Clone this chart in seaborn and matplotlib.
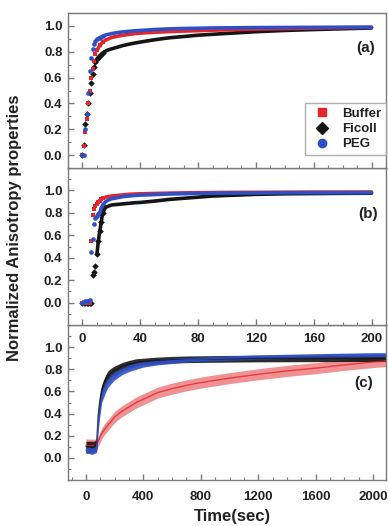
import numpy as np
import pandas as pd
import seaborn as sns
import matplotlib
matplotlib.use("Agg")
import matplotlib.pyplot as plt
from matplotlib.ticker import MultipleLocator
from matplotlib.lines import Line2D

# ---------------- data ----------------
series_names = ["Buffer", "Ficoll", "PEG"]
colors = {"Buffer": "#e3262b", "Ficoll": "#151515", "PEG": "#2f4fc4"}
markers = {"Buffer": "s", "Ficoll": "D", "PEG": "o"}

# Panel (a): time in sec
t_a = [0, 1, 2, 3, 4, 5, 6, 7, 8, 9, 10, 12, 14, 16, 18, 20, 24, 28, 32, 36, 40,
       50, 60, 70, 80, 90, 100, 120, 140, 160, 180, 200]
buffer_a = [0.00, 0.07, 0.18, 0.28, 0.40, 0.50, 0.60, 0.67, 0.73, 0.78, 0.81, 0.85,
            0.875, 0.89, 0.90, 0.91, 0.92, 0.928, 0.934, 0.94, 0.944, 0.951, 0.956,
            0.96, 0.963, 0.967, 0.97, 0.975, 0.979, 0.983, 0.986, 0.989]
ficoll_a = [0.00, 0.08, 0.24, 0.32, 0.40, 0.48, 0.56, 0.63, 0.68, 0.72, 0.745, 0.77,
            0.79, 0.805, 0.815, 0.822, 0.835, 0.848, 0.858, 0.867, 0.875, 0.893,
            0.908, 0.918, 0.928, 0.935, 0.942, 0.955, 0.965, 0.972, 0.978, 0.984]
peg_a = [0.00, 0.00, 0.20, 0.32, 0.48, 0.65, 0.75, 0.82, 0.86, 0.88, 0.895, 0.91,
         0.92, 0.93, 0.935, 0.94, 0.948, 0.954, 0.958, 0.962, 0.965, 0.972, 0.977,
         0.98, 0.982, 0.984, 0.985, 0.987, 0.988, 0.989, 0.99, 0.99]

# Panel (b): time in sec
t_b = [0, 1, 2, 3, 4, 5, 6, 7, 8, 9, 10, 11, 12, 13, 14, 16, 18, 20, 24, 28, 32, 36,
       40, 50, 60, 70, 80, 90, 100, 120, 140, 160, 180, 200]
buffer_b = [0.0, 0.0, 0.0, 0.0, 0.0, 0.0, 0.55, 0.78, 0.83, 0.86, 0.88, 0.90, 0.91,
            0.92, 0.93, 0.94, 0.945, 0.95, 0.955, 0.96, 0.965, 0.968, 0.97, 0.973,
            0.976, 0.978, 0.98, 0.981, 0.982, 0.983, 0.984, 0.985, 0.985, 0.986]
ficoll_b = [0.0, 0.0, 0.0, 0.0, 0.0, 0.0, 0.0, 0.25, 0.27, 0.33, 0.43, 0.55, 0.64,
            0.72, 0.80, 0.85, 0.86, 0.87, 0.875, 0.88, 0.885, 0.89, 0.893, 0.905,
            0.92, 0.93, 0.94, 0.95, 0.955, 0.965, 0.97, 0.972, 0.974, 0.975]
peg_b = [0.0, 0.005, 0.01, 0.01, 0.015, 0.02, 0.45, 0.57, 0.70, 0.75, 0.77, 0.79,
         0.80, 0.84, 0.87, 0.90, 0.915, 0.925, 0.935, 0.945, 0.95, 0.955, 0.958,
         0.963, 0.968, 0.971, 0.974, 0.976, 0.977, 0.978, 0.979, 0.98, 0.98, 0.98]

# Panel (c): time in sec, band centre and half-width of the noisy traces
t_c = [0, 20, 40, 60, 75, 85, 95, 110, 130, 150, 175, 200, 250, 300, 350, 400, 500,
       600, 700, 800, 1000, 1200, 1400, 1600, 1800, 2000, 2100]
buffer_c = [0.11, 0.11, 0.11, 0.11, 0.12, 0.15, 0.18, 0.22, 0.26, 0.29, 0.33, 0.37,
            0.42, 0.46, 0.50, 0.53, 0.59, 0.625, 0.655, 0.68, 0.72, 0.755, 0.785,
            0.81, 0.84, 0.865, 0.875]
buffer_c_spread = [0.06, 0.06, 0.06, 0.06, 0.05, 0.05, 0.05, 0.05, 0.05, 0.05, 0.05,
                   0.05, 0.05, 0.05, 0.05, 0.05, 0.05, 0.05, 0.05, 0.05, 0.05, 0.05,
                   0.05, 0.05, 0.05, 0.05, 0.05]
ficoll_c = [0.10, 0.10, 0.10, 0.10, 0.13, 0.38, 0.50, 0.62, 0.69, 0.74, 0.77, 0.79,
            0.825, 0.845, 0.86, 0.87, 0.88, 0.886, 0.89, 0.892, 0.895, 0.897, 0.898,
            0.899, 0.90, 0.90, 0.90]
ficoll_c_spread = [0.05, 0.05, 0.05, 0.05, 0.05, 0.05, 0.05, 0.04, 0.04, 0.04, 0.04,
                   0.04, 0.035, 0.035, 0.035, 0.03, 0.03, 0.03, 0.03, 0.03, 0.03,
                   0.03, 0.03, 0.03, 0.03, 0.03, 0.03]
peg_c = [0.07, 0.07, 0.06, 0.07, 0.10, 0.30, 0.42, 0.55, 0.62, 0.67, 0.71, 0.74,
         0.78, 0.81, 0.83, 0.845, 0.865, 0.877, 0.886, 0.892, 0.902, 0.91, 0.916,
         0.921, 0.926, 0.93, 0.93]
peg_c_spread = [0.03, 0.03, 0.03, 0.03, 0.05, 0.06, 0.06, 0.05, 0.05, 0.04, 0.04,
                0.035, 0.03, 0.03, 0.03, 0.025, 0.025, 0.025, 0.02, 0.02, 0.02, 0.02,
                0.02, 0.02, 0.02, 0.02, 0.02]

y_ticks = [0.0, 0.2, 0.4, 0.6, 0.8, 1.0]
x_ticks_ab = [0, 40, 80, 120, 160, 200]
x_ticks_c = [0, 400, 800, 1200, 1600, 2000]
panel_labels = ["(a)", "(b)", "(c)"]


def long_df(t, vals):
    frames = []
    for name, v in zip(series_names, vals):
        frames.append(pd.DataFrame({"t": t, "v": v, "series": name}))
    return pd.concat(frames, ignore_index=True)


df_a = long_df(t_a, [buffer_a, ficoll_a, peg_a])
df_b = long_df(t_b, [buffer_b, ficoll_b, peg_b])

# ---------------- style ----------------
sns.set_theme(style="ticks")
plt.rcParams["font.family"] = ["Liberation Sans", "DejaVu Sans"]
plt.rcParams["font.weight"] = "bold"
spine_col = "#7a7a7a"
text_col = "#222222"

fig = plt.figure(figsize=(3.88, 5.26), dpi=100)
L = 68 / 388
W = 318 / 388
ax_a = fig.add_axes([L, 1 - 168 / 526, W, 155 / 526])
ax_b = fig.add_axes([L, 1 - 325 / 526, W, 157 / 526])
ax_c = fig.add_axes([L, 1 - 480 / 526, W, 155 / 526])
ax_a.set_zorder(3)
ax_b.set_zorder(2)
ax_c.set_zorder(1)

draw_order = ["Ficoll", "Buffer", "PEG"]
for ax, df in [(ax_a, df_a), (ax_b, df_b)]:
    late = df[df["t"] >= 10]
    sns.lineplot(data=late, x="t", y="v", hue="series", hue_order=draw_order,
                 palette=colors, linewidth=2.6, estimator=None, legend=False, ax=ax)
    early = df[df["t"] <= 14]
    for name in draw_order:
        sub = early[early["series"] == name]
        sns.scatterplot(data=sub, x="t", y="v", color=colors[name],
                        marker=markers[name], s=11, linewidth=0, legend=False, ax=ax)

# panel c bands
for name, v, sp in [("Buffer", buffer_c, buffer_c_spread),
                    ("Ficoll", ficoll_c, ficoll_c_spread),
                    ("PEG", peg_c, peg_c_spread)]:
    v = np.array(v)
    sp = np.array(sp)
    alpha = 0.5 if name == "Buffer" else 0.9
    ax_c.fill_between(t_c, v - sp, v + sp, color=colors[name], alpha=alpha, linewidth=0)
    sns.lineplot(x=t_c, y=v, color=colors[name], linewidth=1.0, alpha=0.8, ax=ax_c)

# axes formatting
for ax in (ax_a, ax_b, ax_c):
    ax.set_xlabel("")
    ax.set_ylabel("")
    ax.set_yticks(y_ticks)
    ax.set_yticklabels([f"{y:.1f}" for y in y_ticks])
    ax.yaxis.set_minor_locator(MultipleLocator(0.1))
    for s in ax.spines.values():
        s.set_visible(True)
        s.set_color(spine_col)
        s.set_linewidth(1.0)
    ax.tick_params(which="major", direction="in", length=4, width=1, color=spine_col,
                   labelcolor=text_col, labelsize=9.5, top=False, right=False)
    ax.tick_params(which="minor", direction="in", length=2.2, width=0.8,
                   color=spine_col, top=False, right=False)
    ax.tick_params(axis="y", pad=4)

ax_a.set_ylim(-0.1, 1.1)
ax_b.set_ylim(-0.2, 1.2)
ax_c.set_ylim(-0.2, 1.2)
for ax in (ax_a, ax_b):
    ax.set_xlim(-10, 210)
    ax.set_xticks(x_ticks_ab)
    ax.xaxis.set_minor_locator(MultipleLocator(10))
ax_a.tick_params(axis="x", labelbottom=False)
ax_b.set_xticklabels([str(x) for x in x_ticks_ab])
ax_b.tick_params(axis="x", pad=6)
ax_c.set_xlim(-125, 2090)
ax_c.set_xticks(x_ticks_c)
ax_c.set_xticklabels([str(x) for x in x_ticks_c])
ax_c.xaxis.set_minor_locator(MultipleLocator(100))
ax_c.tick_params(axis="x", pad=8)

for ax, lab, (x, y) in zip((ax_a, ax_b, ax_c), panel_labels,
                           [(0.965, 0.774), (0.975, 0.707), (0.959, 0.626)]):
    ax.text(x, y, lab, transform=ax.transAxes, ha="right", va="center",
            fontsize=11, fontweight="bold", color=text_col)

handles = [Line2D([], [], linestyle="none", marker=markers[n], color=colors[n],
                  markersize=6 if n != "Ficoll" else 6.5) for n in series_names]
leg = ax_a.legend(handles, series_names, loc="lower right", bbox_to_anchor=(1.0, 0.084),
                  frameon=True, fancybox=False, fontsize=9.5, handlelength=2.0,
                  handletextpad=0.5, borderpad=0.35, labelspacing=0.22,
                  borderaxespad=0.0)
leg.get_frame().set_edgecolor("#9a9a9a")
leg.get_frame().set_linewidth(1.0)
for t in leg.get_texts():
    t.set_fontweight("bold")
    t.set_color(text_col)

fig.text(15 / 388, 1 - 228 / 526, "Normalized Anisotropy properties", rotation=90,
         ha="center", va="center", fontsize=12, fontweight="bold", color=text_col)
fig.text(232 / 388, 1 - 516 / 526, "Time(sec)", ha="center", va="center",
         fontsize=12, fontweight="bold", color=text_col)

fig.savefig("out.png", dpi=100)
